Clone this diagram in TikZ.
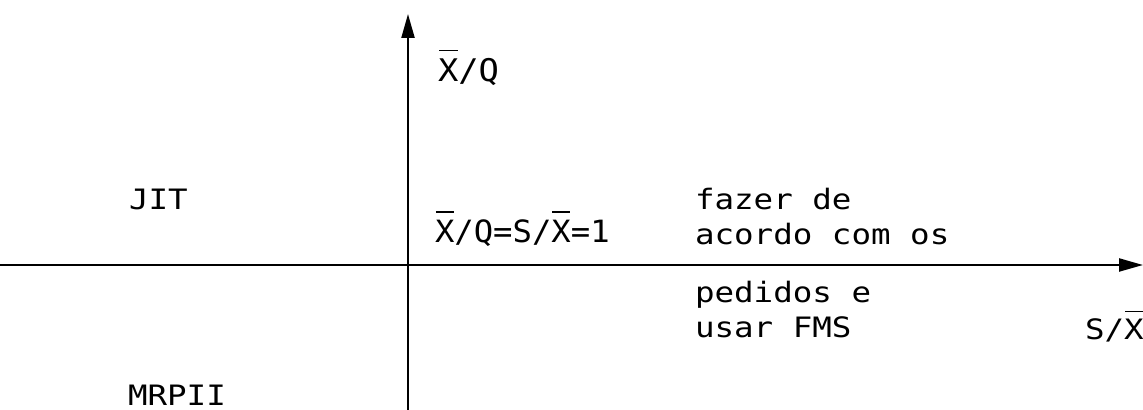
\documentclass[tikz,border=0pt]{standalone}
\usepackage{fontspec}
\usepackage{graphicx}
\usetikzlibrary{arrows.meta}
\newfontfamily\mono{DejaVu Sans Mono}
\newcommand\barX{\leavevmode\rlap{\hspace{0.03em}\rule[0.98em]{0.55em}{0.06em}}X}
\tikzset{
  axis/.style={line width=1.1pt, -{Triangle[length=12pt,width=6.5pt]}},
  lbl/.style={anchor=base west, inner sep=0pt, outer sep=0pt, font=\mono\fontsize{13pt}{15pt}\selectfont},
}
\newcommand\widetxt[1]{\scalebox{1.25}[1.08]{#1}}
\begin{document}
\begin{tikzpicture}[x=0.5pt,y=-0.5pt]
\useasboundingbox (0,0) rectangle (1143,410);
\coordinate (vb) at (408,410);
\coordinate (vt) at (408,14);
\coordinate (hl) at (0,265);
\coordinate (hr) at (1143,265);
\draw[axis] (vb) -- (vt);
\draw[axis] (hl) -- (hr);
\node[lbl] (xq) at (438,82) {\scalebox{1.3}[1.2]{\barX/Q}};
\node[lbl] (jit) at (129,210) {\widetxt{JIT}};
\node[lbl] (eq) at (435,243) {\scalebox{1.24}[1.18]{\barX/Q=S/\barX=1}};
\node[lbl] (f1) at (695,210) {\widetxt{fazer de}};
\node[lbl] (f2) at (695,245) {\widetxt{acordo com os}};
\node[lbl] (p1) at (695,303) {\widetxt{pedidos e}};
\node[lbl] (p2) at (695,338) {\widetxt{usar FMS}};
\node[lbl] (sx) at (1085,340) {\widetxt{S/\barX}};
\node[lbl] (mrp) at (128,405) {\widetxt{MRPII}};
\end{tikzpicture}
\end{document}
